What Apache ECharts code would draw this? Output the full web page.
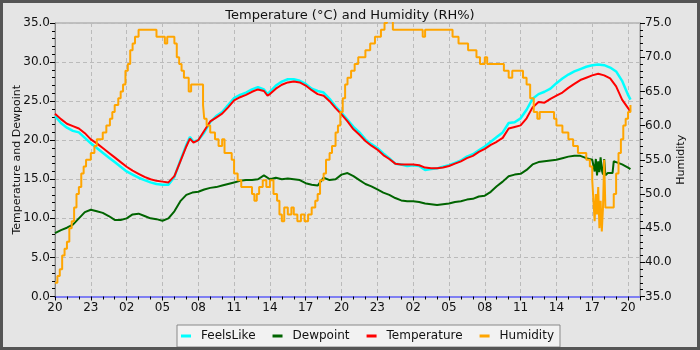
<!DOCTYPE html>
<html>
<head>
<meta charset="utf-8">
<script src="https://cdn.jsdelivr.net/npm/echarts@6/dist/echarts.min.js"></script>
<style>
  html, body { margin: 0; padding: 0; background: #e5e5e5; }
  #chart { width: 700px; height: 350px; box-sizing: border-box; border: 3px solid #555; }
</style>
</head>
<body>
<div id="chart"></div>
<script>
// hours since 20:00 on day 1
const startHour = 20;

const feelsLike = [
  [0, 23.1], [0.5, 22.2], [1, 21.6], [1.5, 21.2], [2, 21.0], [2.5, 20.3], [3, 19.6], [3.5, 19.0],
  [4, 18.4], [4.5, 17.8], [5, 17.2], [5.5, 16.6], [6, 16.0], [6.5, 15.6], [7, 15.2], [7.5, 14.9],
  [8, 14.6], [8.5, 14.4], [9, 14.3], [9.5, 14.3], [10, 15.3], [10.5, 17.4], [11, 19.4], [11.3, 20.4],
  [11.6, 19.8], [12, 20.0], [12.5, 21.0], [13, 22.3], [13.5, 23.1], [14, 23.6], [14.5, 24.5], [15, 25.4],
  [15.5, 25.8], [16, 26.1], [16.5, 26.5], [17, 26.8], [17.5, 26.5], [17.8, 25.9], [18, 26.2], [18.5, 27.0],
  [19, 27.5], [19.5, 27.8], [20, 27.8], [20.5, 27.6], [21, 27.2], [21.5, 26.6], [22, 26.3], [22.5, 26.1],
  [23, 25.3], [23.5, 24.3], [24, 23.5], [24.5, 22.6], [25, 21.7], [25.5, 21.0], [26, 20.1], [26.5, 19.5],
  [27, 19.0], [27.5, 18.3], [28, 17.7], [28.5, 17.0], [29, 16.9], [29.5, 16.7], [30, 16.8], [30.5, 16.7],
  [31, 16.2], [31.5, 16.3], [32, 16.4], [32.5, 16.6], [33, 16.8], [33.5, 17.1], [34, 17.4], [34.5, 17.9],
  [35, 18.2], [35.5, 18.7], [36, 19.2], [36.5, 19.8], [37, 20.4], [37.5, 21.0], [38, 22.2], [38.5, 22.3],
  [39, 22.8], [39.5, 23.9], [40, 25.3], [40.5, 25.9], [41, 26.2], [41.5, 26.6], [42, 27.3], [42.5, 27.9],
  [43, 28.4], [43.5, 28.8], [44, 29.1], [44.5, 29.4], [45, 29.6], [45.5, 29.7], [46, 29.6], [46.5, 29.3],
  [47, 28.8], [47.5, 27.6], [48, 25.8], [48.2, 25.2]
];

const dewpoint = [
  [0, 8.1], [0.5, 8.5], [1, 8.8], [1.5, 9.2], [2, 10.0], [2.5, 10.8], [3, 11.1], [3.5, 10.9],
  [4, 10.7], [4.5, 10.3], [5, 9.8], [5.5, 9.8], [6, 10.0], [6.5, 10.5], [7, 10.6], [7.5, 10.3],
  [8, 10.0], [8.5, 9.9], [9, 9.7], [9.5, 10.0], [10, 10.9], [10.5, 12.2], [11, 13.0], [11.5, 13.3],
  [12, 13.4], [12.5, 13.7], [13, 13.9], [13.5, 14.0], [14, 14.2], [14.5, 14.4], [15, 14.6], [15.5, 14.8],
  [16, 14.9], [16.5, 14.9], [17, 15.0], [17.5, 15.5], [18, 15.0], [18.5, 15.2], [19, 15.0], [19.5, 15.1],
  [20, 15.0], [20.5, 14.9], [21, 14.5], [21.5, 14.3], [22, 14.2], [22.5, 15.2], [23, 14.9], [23.5, 15.0],
  [24, 15.6], [24.5, 15.8], [25, 15.4], [25.5, 14.9], [26, 14.4], [26.5, 14.1], [27, 13.7], [27.5, 13.3],
  [28, 13.0], [28.5, 12.6], [29, 12.3], [29.5, 12.2], [30, 12.2], [30.5, 12.1], [31, 11.9], [31.5, 11.8],
  [32, 11.7], [32.5, 11.8], [33, 11.9], [33.5, 12.1], [34, 12.2], [34.5, 12.4], [35, 12.5], [35.5, 12.8],
  [36, 12.9], [36.5, 13.4], [37, 14.1], [37.5, 14.7], [38, 15.4], [38.5, 15.6], [39, 15.7], [39.5, 16.2],
  [40, 16.9], [40.5, 17.2], [41, 17.3], [41.5, 17.4], [42, 17.5], [42.5, 17.7], [43, 17.9], [43.5, 18.0],
  [44, 18.0], [44.5, 17.7], [45, 17.5], [45.1, 17.5], [45.2, 16.0], [45.3, 17.6], [45.4, 15.5], [45.5, 17.3],
  [45.6, 15.9], [45.7, 17.8], [45.8, 16.2], [45.9, 15.6], [46, 17.6], [46.1, 15.5], [46.3, 15.8], [46.5, 15.8],
  [46.7, 15.8], [46.8, 17.3], [47, 17.2], [47.5, 16.9], [48, 16.5], [48.2, 16.3]
];

const temperature = [
  [0, 23.4], [0.5, 22.7], [1, 22.1], [1.5, 21.8], [2, 21.5], [2.5, 20.9], [3, 20.1], [3.5, 19.6],
  [4, 19.0], [4.5, 18.4], [5, 17.8], [5.5, 17.2], [6, 16.6], [6.5, 16.1], [7, 15.7], [7.5, 15.3],
  [8, 15.0], [8.5, 14.8], [9, 14.7], [9.5, 14.6], [10, 15.4], [10.5, 17.3], [11, 19.2], [11.3, 20.2],
  [11.6, 19.7], [12, 20.0], [12.5, 21.2], [13, 22.4], [13.5, 22.9], [14, 23.4], [14.5, 24.2], [15, 25.1],
  [15.5, 25.5], [16, 25.8], [16.5, 26.2], [17, 26.5], [17.5, 26.3], [17.8, 25.7], [18, 25.9], [18.5, 26.6],
  [19, 27.1], [19.5, 27.4], [20, 27.5], [20.5, 27.4], [21, 27.0], [21.5, 26.4], [22, 25.9], [22.5, 25.7],
  [23, 25.0], [23.5, 24.1], [24, 23.3], [24.5, 22.4], [25, 21.4], [25.5, 20.7], [26, 19.9], [26.5, 19.3],
  [27, 18.8], [27.5, 18.1], [28, 17.6], [28.5, 17.0], [29, 16.9], [29.5, 16.9], [30, 16.9], [30.5, 16.8],
  [31, 16.5], [31.5, 16.4], [32, 16.4], [32.5, 16.5], [33, 16.7], [33.5, 17.0], [34, 17.3], [34.5, 17.7],
  [35, 18.0], [35.5, 18.5], [36, 18.9], [36.5, 19.4], [37, 19.8], [37.5, 20.3], [38, 21.5], [38.5, 21.7],
  [39, 21.9], [39.5, 22.8], [40, 24.2], [40.5, 24.9], [41, 24.8], [41.5, 25.3], [42, 25.7], [42.5, 26.1],
  [43, 26.7], [43.5, 27.2], [44, 27.7], [44.5, 28.0], [45, 28.3], [45.5, 28.5], [46, 28.3], [46.5, 27.9],
  [47, 26.9], [47.5, 25.2], [48, 24.1], [48.2, 23.7]
];

const humidity = [
  [0, 37], [0.2, 38], [0.4, 39], [0.6, 41], [0.8, 42], [1.0, 43], [1.2, 45], [1.4, 46], [1.6, 48],
  [1.8, 50], [2.0, 51], [2.2, 53], [2.4, 54], [2.6, 55], [3.0, 56], [3.3, 57], [3.5, 58], [4.0, 59],
  [4.3, 60], [4.6, 61], [4.8, 62], [5.0, 63], [5.3, 64], [5.5, 65], [5.7, 66], [5.9, 68], [6.1, 69],
  [6.3, 71], [6.5, 72], [6.7, 73], [7.0, 74], [8.5, 73], [9.2, 72], [9.4, 73], [10.0, 72], [10.2, 70],
  [10.4, 69], [10.6, 68], [10.8, 67], [11.2, 65], [11.4, 66], [12.4, 63], [12.5, 61], [12.7, 60],
  [13.0, 59], [13.4, 58], [13.7, 57], [14.0, 58], [14.2, 56], [14.8, 55], [15.0, 53], [15.3, 52],
  [15.6, 51], [16.5, 50], [16.7, 49], [16.9, 50], [17.1, 51], [17.4, 52], [17.7, 51], [18.0, 52],
  [18.3, 50], [18.6, 49], [18.8, 47], [19.0, 46], [19.2, 48], [19.5, 47], [19.8, 48], [20.0, 47],
  [20.3, 46], [20.6, 47], [20.9, 46], [21.2, 47], [21.5, 48], [21.8, 49], [22.0, 50], [22.2, 52],
  [22.5, 53], [22.7, 55], [23.0, 56], [23.2, 57], [23.5, 59], [23.7, 60], [23.9, 62], [24.1, 64],
  [24.3, 66], [24.5, 67], [24.8, 68], [25.1, 69], [25.4, 70], [26.0, 71], [26.4, 72], [26.8, 73],
  [27.3, 74], [27.6, 75], [27.8, 76], [28.3, 74], [30.8, 73], [31.0, 74], [33.3, 73], [33.8, 72],
  [34.6, 71], [35.3, 70], [35.6, 69], [36.0, 70], [36.2, 69], [37.6, 68], [38.0, 67], [38.3, 68],
  [39.2, 67], [39.5, 66], [39.8, 64], [40.1, 62], [40.4, 61], [40.6, 62], [41.8, 61], [42.0, 60],
  [42.5, 59], [43.0, 58], [43.4, 57], [43.8, 56], [44.5, 55], [44.8, 54], [45.0, 52], [45.1, 49],
  [45.2, 46], [45.3, 50], [45.4, 47], [45.5, 51], [45.6, 45], [45.7, 49], [45.8, 44.5], [45.9, 48],
  [46.0, 55], [46.1, 48], [46.8, 50], [47.0, 53], [47.2, 56], [47.4, 58], [47.6, 60], [47.8, 61],
  [48.0, 62], [48.2, 63]
];

const chart = echarts.init(document.getElementById('chart'));

const hourLabel = (v) => {
  if (v % 3 !== 0) return '';
  const h = (startHour + v) % 24;
  return (h < 10 ? '0' : '') + h;
};

const font = 'DejaVu Sans';

chart.setOption({
  backgroundColor: '#e5e5e5',
  animation: false,
  textStyle: { fontFamily: font },
  title: {
    text: 'Temperature (°C) and Humidity (RH%)',
    left: 'center',
    top: 1,
    textStyle: { fontFamily: font, fontSize: 13, fontWeight: 'normal', color: '#111' }
  },
  legend: {
    left: 174,
    top: 322,
    padding: [5, 6, 5, 4],
    itemGap: 17,
    itemWidth: 10,
    itemHeight: 3,
    icon: 'rect',
    backgroundColor: '#f2f2f2',
    borderColor: '#888',
    borderWidth: 1,
    borderRadius: 0,
    textStyle: { fontFamily: font, fontSize: 12, color: '#111', padding: [0, 0, 0, 5] },
    data: ['FeelsLike', 'Dewpoint', 'Temperature', 'Humidity']
  },
  grid: {
    left: 52, right: 57, top: 20, bottom: 50.5,
    containLabel: false, outerBoundsMode: 'none',
    show: true, borderColor: '#999', borderWidth: 1
  },
  xAxis: {
    type: 'value',
    min: 0,
    max: 49,
    interval: 3,
    axisLine: { show: true, lineStyle: { color: '#7f7ff2', width: 2 } },
    axisTick: { show: true, length: 4, lineStyle: { color: '#000' } },
    minorTick: { show: true, splitNumber: 3, length: 3, lineStyle: { color: '#000' } },
    axisLabel: { formatter: hourLabel, fontSize: 12, color: '#111', margin: 5, showMaxLabel: false },
    splitLine: { show: true, lineStyle: { color: '#bbb', type: [4, 3] } }
  },
  yAxis: [
    {
      type: 'value',
      min: 0,
      max: 35,
      interval: 5,
      name: 'Temperature and Dewpoint',
      nameLocation: 'middle',
      nameGap: 32,
      nameMoveOverlap: false,
      nameTextStyle: { fontFamily: font, fontSize: 11, color: '#111' },
      axisLine: { show: true, lineStyle: { color: '#888' } },
      axisTick: { show: true, length: 5, lineStyle: { color: '#000' } },
      minorTick: { show: true, splitNumber: 5, length: 3, lineStyle: { color: '#000' } },
      axisLabel: { formatter: (v) => v.toFixed(1), fontSize: 12, color: '#111', margin: 5 },
      splitLine: { show: true, lineStyle: { color: '#bbb', type: [4, 3] } }
    },
    {
      type: 'value',
      min: 35,
      max: 75,
      interval: 5,
      name: 'Humidity',
      nameLocation: 'middle',
      nameGap: 36,
      nameMoveOverlap: false,
      nameTextStyle: { fontFamily: font, fontSize: 11, color: '#111' },
      axisLine: { show: true, lineStyle: { color: '#888' } },
      axisTick: { show: true, length: 5, lineStyle: { color: '#000' } },
      minorTick: { show: true, splitNumber: 5, length: 3, lineStyle: { color: '#000' } },
      axisLabel: { formatter: (v) => v.toFixed(1), fontSize: 12, color: '#111', margin: 5 },
      splitLine: { show: false }
    }
  ],
  series: [
    {
      name: 'FeelsLike', type: 'line', data: feelsLike, showSymbol: false,
      itemStyle: { color: '#00ffff' }, lineStyle: { color: '#00ffff', width: 2.5 }
    },
    {
      name: 'Dewpoint', type: 'line', data: dewpoint, showSymbol: false,
      itemStyle: { color: '#006400' }, lineStyle: { color: '#006400', width: 2 }
    },
    {
      name: 'Temperature', type: 'line', data: temperature, showSymbol: false,
      itemStyle: { color: '#ff0000' }, lineStyle: { color: '#ff0000', width: 2 }
    },
    {
      name: 'Humidity', type: 'line', yAxisIndex: 1, data: humidity, showSymbol: false, step: 'end',
      clip: true,
      itemStyle: { color: '#ffa500' }, lineStyle: { color: '#ffa500', width: 2 }
    }
  ]
});
</script>
</body>
</html>
